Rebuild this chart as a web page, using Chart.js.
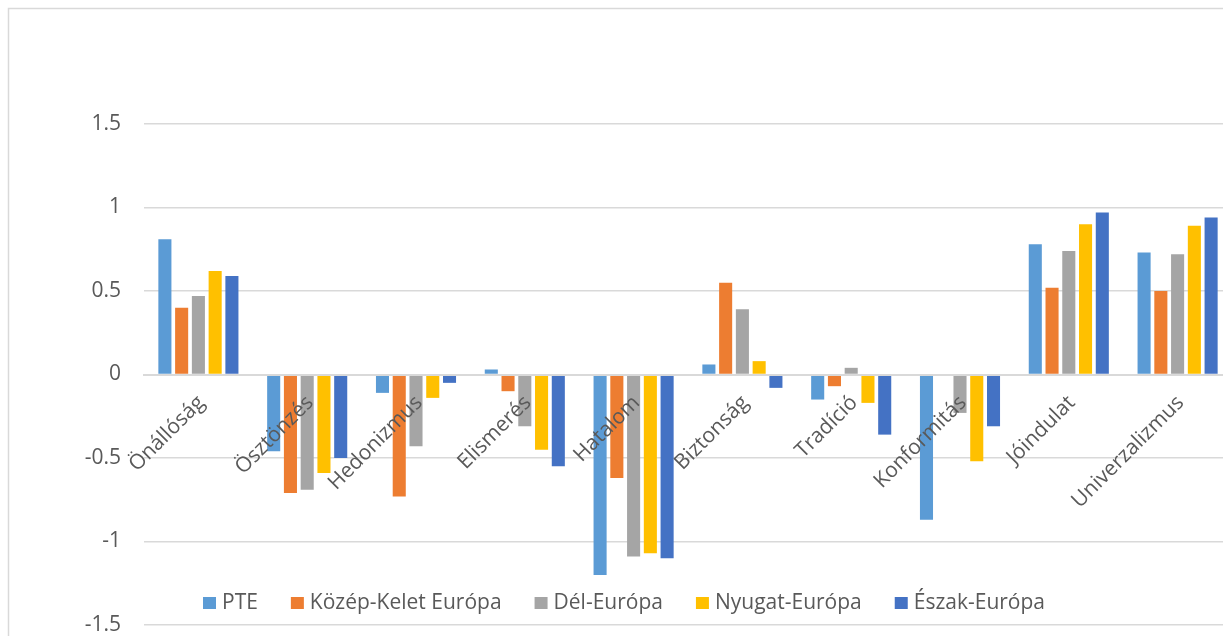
<!DOCTYPE html>
<html>
<head>
<meta charset="utf-8">
<script src="https://cdn.jsdelivr.net/npm/chart.js@4/dist/chart.umd.min.js"></script>
<style>
    body { margin: 0; overflow: hidden; background: #fff; }
    canvas { display: block; }
</style>
</head>
<body>
<canvas id="values-chart" width="1248" height="650"></canvas>
<script>
var categories = ['Önállóság', 'Ösztönzés', 'Hedonizmus', 'Elismerés', 'Hatalom',
    'Biztonság', 'Tradíció', 'Konformitás', 'Jóindulat', 'Univerzalizmus'];
var seriesNames = ['PTE', 'Közép-Kelet Európa', 'Dél-Európa', 'Nyugat-Európa', 'Észak-Európa'];
var pte        = [0.81, -0.46, -0.11,  0.03, -1.20,  0.06, -0.15, -0.87, 0.78, 0.73];
var kozepKelet = [0.40, -0.71, -0.73, -0.10, -0.62,  0.55, -0.07,  0.00, 0.52, 0.50];
var delEuropa  = [0.47, -0.69, -0.43, -0.31, -1.09,  0.39,  0.04, -0.23, 0.74, 0.72];
var nyugat     = [0.62, -0.59, -0.14, -0.45, -1.07,  0.08, -0.17, -0.52, 0.90, 0.89];
var eszak      = [0.59, -0.50, -0.05, -0.55, -1.10, -0.08, -0.36, -0.31, 0.97, 0.94];
var yTicks = [-1.5, -1, -0.5, 0, 0.5, 1, 1.5];

var colors = ['#5b9bd5', '#ed7d31', '#a5a5a5', '#ffc000', '#4472c4'];
var textColor = '#595959';
var gridColor = '#d9d9d9';
var fontFamily = '"Open Sans", sans-serif';
var fontSize = 21;

// white background, outer frame and the legend inside the plot (as Excel does)
var frame = {
    id: 'frame',
    beforeDraw: function(chart) {
        var ctx = chart.ctx;
        ctx.save();
        ctx.fillStyle = '#fff';
        ctx.fillRect(0, 0, chart.width, chart.height);
        ctx.strokeStyle = gridColor;
        ctx.lineWidth = 1.5;
        ctx.strokeRect(8.5, 8.5, chart.width - 17, chart.height - 17);
        ctx.restore();
    },
    afterDraw: function(chart) {
        var ctx = chart.ctx;
        ctx.save();
        ctx.font = fontSize + 'px ' + fontFamily;
        var box = 12, gap = 7, spacing = 33;
        var widths = seriesNames.map(function(n) { return ctx.measureText(n).width; });
        var total = widths.reduce(function(a, b) { return a + b; }, 0) +
            seriesNames.length * (box + gap) + (seriesNames.length - 1) * spacing;
        var x = chart.width / 2 - total / 2;
        var y = 603;
        ctx.textBaseline = 'middle';
        ctx.textAlign = 'left';
        seriesNames.forEach(function(name, i) {
            ctx.fillStyle = colors[i];
            ctx.fillRect(x, y - box / 2, box + 1, box);
            x += box + gap;
            ctx.fillStyle = textColor;
            ctx.fillText(name, x, y);
            x += widths[i] + spacing;
        });
        ctx.restore();
    }
};

var seriesData = [pte, kozepKelet, delEuropa, nyugat, eszak];

var ctx = document.getElementById('values-chart').getContext('2d');
var chart = new Chart(ctx, {
    type: 'bar',
    data: {
        labels: categories,
        datasets: seriesNames.map(function(name, i) {
            return {
                label: name,
                data: seriesData[i],
                backgroundColor: colors[i],
                borderWidth: 0,
                categoryPercentage: 0.77,
                barPercentage: 0.78
            };
        })
    },
    options: {
        responsive: false,
        devicePixelRatio: 1,
        animation: false,
        locale: 'en-US',
        layout: { padding: { left: 0, right: 16, top: 124, bottom: 25 } },
        plugins: {
            legend: { display: false },
            tooltip: { enabled: false }
        },
        scales: {
            x: {
                position: { y: 0 },
                offset: true,
                grid: { display: false, drawTicks: false },
                border: { display: true, color: gridColor, width: 2, z: 1 },
                ticks: {
                    color: textColor,
                    font: { family: fontFamily, size: fontSize },
                    minRotation: 45,
                    maxRotation: 45,
                    autoSkip: false,
                    padding: 16,
                    labelOffset: 3,
                    z: 1
                }
            },
            y: {
                min: -1.5,
                max: 1.5,
                afterBuildTicks: function(scale) {
                    scale.ticks = yTicks.map(function(v) { return { value: v }; });
                },
                afterFit: function(scale) { scale.width = 144; },
                // invisible tick marks keep the labels away from the plot
                grid: { color: gridColor, lineWidth: 1.5, drawTicks: true, tickLength: 23, tickColor: 'rgba(0,0,0,0)' },
                border: { display: false },
                ticks: {
                    color: textColor,
                    font: { family: fontFamily, size: fontSize },
                    padding: 0,
                    callback: function(v) { return String(v); }
                }
            }
        }
    },
    plugins: [frame]
});
</script>
</body>
</html>
